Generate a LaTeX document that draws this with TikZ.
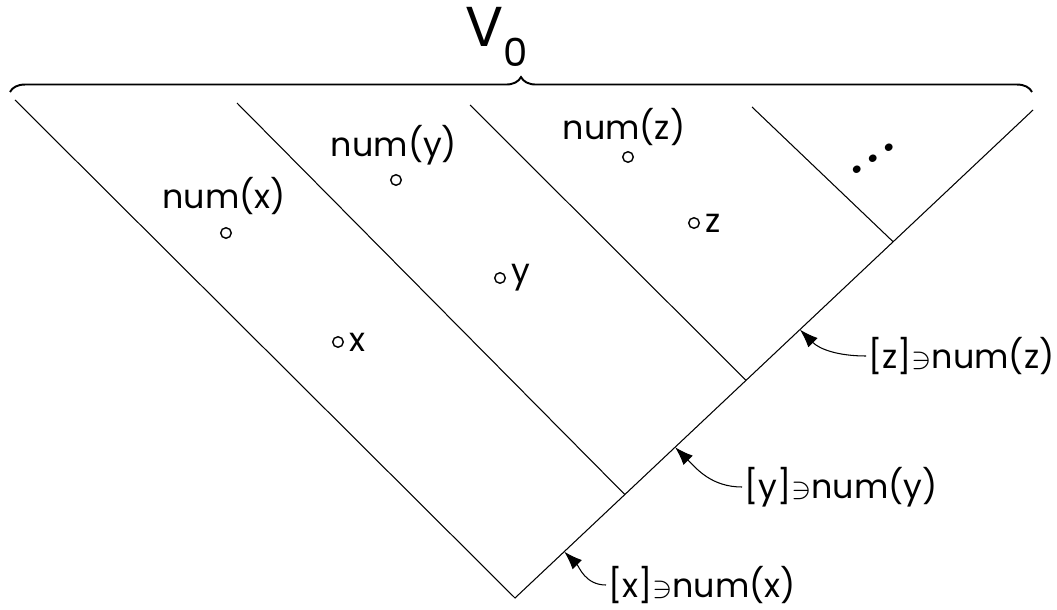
\documentclass[tikz,border=0pt]{standalone}
\usepackage{fontspec}
\setmainfont{Poppins}
\usetikzlibrary{arrows.meta,positioning,calc,decorations.pathreplacing}
\tikzset{
  edg/.style={line width=.6pt},
  brc/.style={decorate,decoration={brace,amplitude=8.5pt},line width=1.1pt},
  pt/.style={circle,draw,line width=.8pt,inner sep=0pt,minimum size=6pt},
  lbl/.style={font=\fontsize{19}{22}\selectfont,inner sep=1pt},
  cls/.style={font=\fontsize{19}{22}\selectfont,inner sep=1pt,anchor=west},
  ar/.style={-{Latex[length=10.5pt,width=7.5pt]},line width=.6pt},
}

\begin{document}
\begin{tikzpicture}[x=.02cm,y=.02cm]
  \useasboundingbox (0,0) rectangle (1057,609);
  % wedge
  \coordinate (tl) at (15,509);
  \coordinate (bot) at (515,11);
  \coordinate (tr) at (1033,499);
  \draw[edg] (tl) -- (bot) -- (tr);
  % class borders
  \foreach \x/\y/\t/\n in {237/506/.212/1,470/504/.446/2,752/502/.730/3}{
    \coordinate (s\n) at (\x,\y);
    \coordinate (e\n) at ($(bot)!\t!(tr)$);
    \draw[edg] (s\n) -- (e\n);
  }
  % brace
  \coordinate (bl) at (10,517);
  \coordinate (br) at (1032,517);
  \draw[brc] (bl) -- (br);
  \node[inner sep=0pt,font=\fontsize{32}{36}\selectfont] (v0) at (497,572)
    {V\raisebox{-11pt}{\fontsize{22}{22}\selectfont 0}};
  % points
  \node[pt] (px) at (226,376){};
  \node[lbl] (nx) at (224,413){num(x)};
  \node[pt] (py) at (396,429){};
  \node[lbl] (ny) at (394,464){num(y)};
  \node[pt] (pz) at (628,452){};
  \node[lbl] (nz) at (624,482){num(z)};
  \node[pt] (x) at (338,267){};
  \node[lbl,right=2pt of x] (xl){x};
  \node[pt] (y) at (500,331){};
  \node[lbl,right=2pt of y] (yl){y};
  \node[pt] (z) at (694,386){};
  \node[lbl,right=2pt of z] (zl){z};
  \node[rotate=34,inner sep=0pt,font=\bfseries\fontsize{22}{22}\selectfont] (dots) at (873,450)
    {.\hspace{5pt}.\hspace{5pt}.};
  % classes
  \coordinate (tx) at ($(bot)!.095!(tr)$);
  \coordinate (ty) at ($(bot)!.309!(tr)$);
  \coordinate (tz) at ($(bot)!.55!(tr)$);
  \node[cls] (lx) at (606,24){[x]$\ni$num(x)};
  \node[cls] (ly) at (742,122){[y]$\ni$num(y)};
  \node[cls] (lz) at (866,253){[z]$\ni$num(z)};
  \draw[ar] (lx.west) to[out=180,in=-45] (tx);
  \draw[ar] (ly.west) to[out=180,in=-45] (ty);
  \draw[ar] (lz.west) to[out=180,in=-45] (tz);
\end{tikzpicture}
\end{document}
